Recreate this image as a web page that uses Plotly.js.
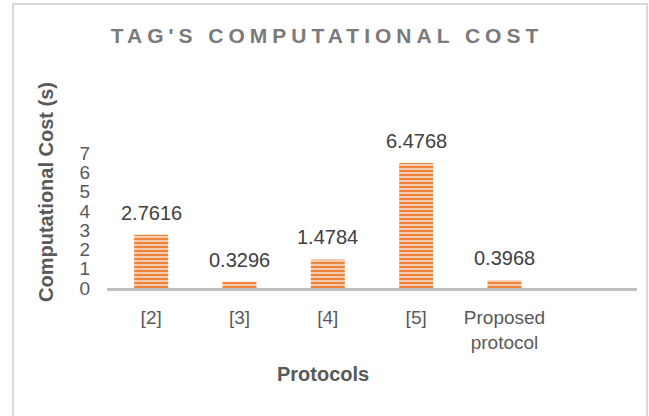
<!DOCTYPE html>
<html>
<head>
<meta charset="utf-8">
<script src="https://cdn.plot.ly/plotly-3.0.1.min.js"></script>
<style>
  html, body { margin: 0; padding: 0; background: #ffffff; }
  #chart { width: 649px; height: 416px; }
  .gtitle { letter-spacing: 5px; }
</style>
</head>
<body>
<div id="chart"></div>
<script>
const categories = ['[2]', '[3]', '[4]', '[5]', 'Proposed<br>protocol'];
const costValues = [2.7616, 0.3296, 1.4784, 6.4768, 0.3968];
const costLabels = ['2.7616', '0.3296', '1.4784', '6.4768', '0.3968'];
const yTickValues = [0, 1, 2, 3, 4, 5, 6, 7];

const FONT = 'Liberation Sans, Arial, sans-serif';

const trace = {
  type: 'bar',
  x: categories,
  y: costValues,
  width: 0.385,
  marker: {
    color: '#F4B183',
    line: { width: 0 },
    pattern: {
      shape: '-',
      fgcolor: '#ED7D31',
      bgcolor: '#F8CBAD',
      size: 4,
      solidity: 0.45
    }
  },
  hoverinfo: 'skip',
  showlegend: false
};

const annotations = categories.map((c, i) => ({
  x: c,
  y: costValues[i],
  xref: 'x',
  yref: 'y',
  text: costLabels[i],
  showarrow: false,
  yanchor: 'bottom',
  yshift: 9,
  font: { family: FONT, size: 20, color: '#404040' }
}));

annotations.push({
  xref: 'paper', yref: 'paper',
  x: (46 - 107) / 530, y: (288 - 192) / 135,
  text: '<b>Computational Cost (s)</b>',
  textangle: -90,
  showarrow: false,
  xanchor: 'center', yanchor: 'middle',
  font: { family: FONT, size: 20, color: '#595959' }
});
annotations.push({
  xref: 'paper', yref: 'paper',
  x: (323 - 107) / 530, y: (288 - 374) / 135,
  text: '<b>Protocols</b>',
  showarrow: false,
  xanchor: 'center', yanchor: 'middle',
  font: { family: FONT, size: 20, color: '#595959' }
});

const layout = {
  width: 649,
  height: 416,
  margin: { l: 107, r: 12, t: 153, b: 128, pad: 0 },
  paper_bgcolor: 'rgba(0,0,0,0)',
  plot_bgcolor: 'rgba(0,0,0,0)',
  title: {
    text: "<b>TAG'S COMPUTATIONAL COST</b>",
    x: 327 / 649,
    xanchor: 'center',
    y: 1 - 36 / 416,
    yanchor: 'middle',
    font: { family: FONT, size: 21, color: '#7A7A7A' }
  },
  xaxis: {
    type: 'category',
    range: [-0.5, 5.5],
    showline: true,
    linecolor: '#BFBFBF',
    linewidth: 3,
    showgrid: false,
    zeroline: false,
    ticks: '',
    ticklabelstandoff: 10,
    tickfont: { family: FONT, size: 19, color: '#595959' },
    fixedrange: true
  },
  yaxis: {
    range: [0, 7],
    tickvals: yTickValues,
    ticktext: yTickValues.map(String),
    showline: false,
    showgrid: false,
    zeroline: false,
    ticks: '',
    ticklabelstandoff: 16,
    tickfont: { family: FONT, size: 19, color: '#595959' },
    fixedrange: true
  },
  annotations: annotations,
  shapes: [{
    type: 'rect',
    xref: 'paper', yref: 'paper',
    x0: (13 - 107) / 530, x1: (647 - 107) / 530,
    y0: (288 - 430) / 135, y1: (288 - 4) / 135,
    line: { color: '#D9D9D9', width: 2 },
    fillcolor: 'rgba(0,0,0,0)',
    layer: 'below'
  }],
  bargap: 0.6
};

Plotly.newPlot('chart', [trace], layout, { displayModeBar: false, staticPlot: true });
</script>
</body>
</html>
